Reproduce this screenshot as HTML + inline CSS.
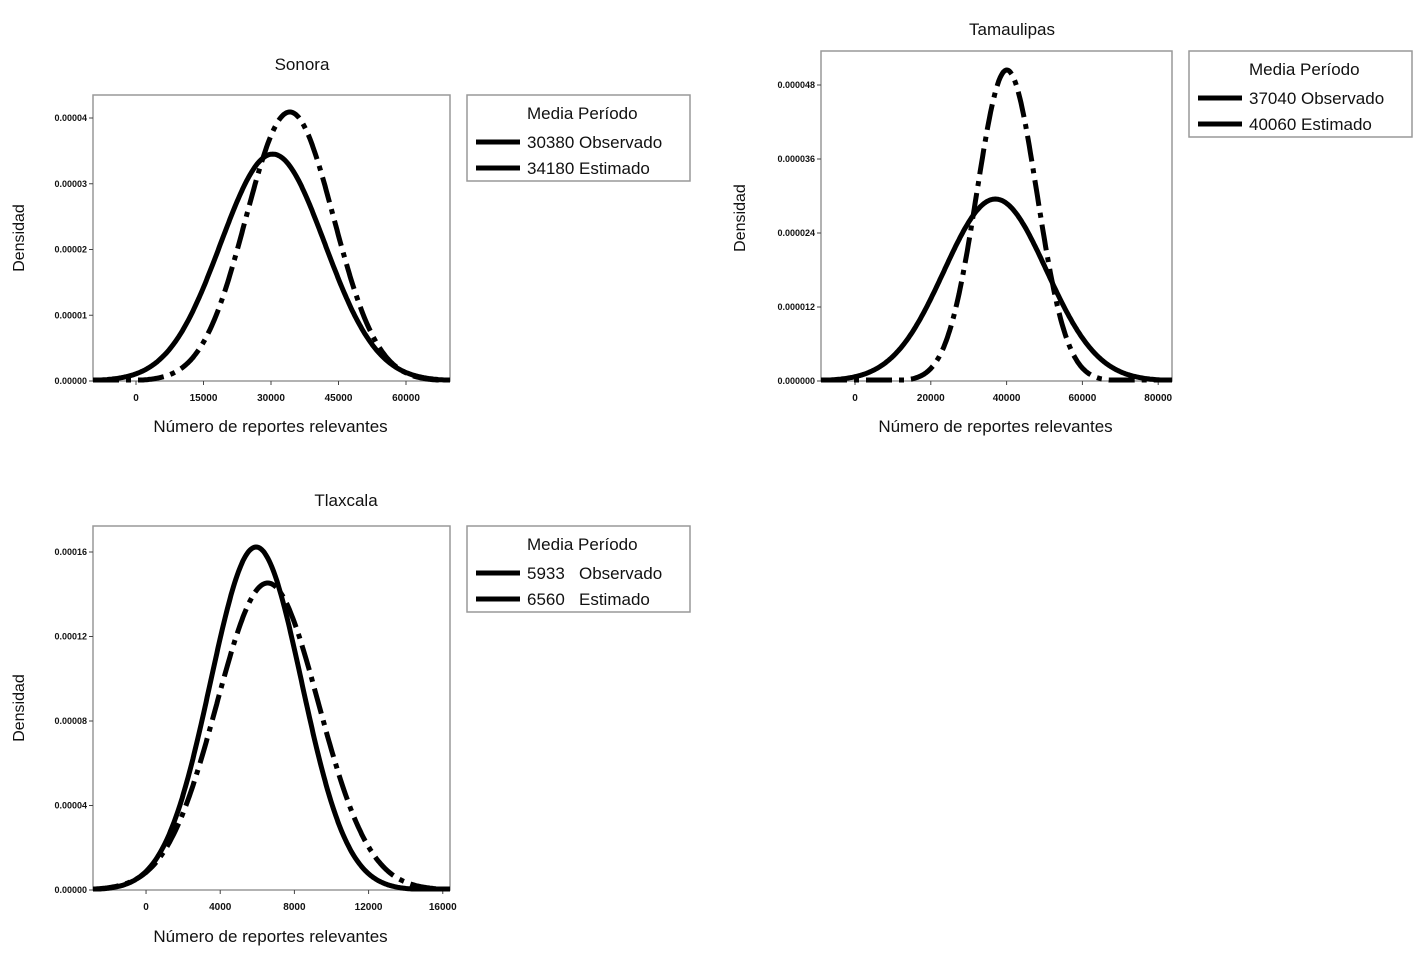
<!DOCTYPE html>
<html><head><meta charset="utf-8">
<style>
html,body{margin:0;padding:0;background:#fff;}
body{width:1415px;height:959px;overflow:hidden;font-family:"Liberation Sans",sans-serif;}
svg text{font-family:"Liberation Sans",sans-serif;fill:#111;}
</style></head>
<body>
<svg id="chart" width="1415" height="959" viewBox="0 0 1415 959" xmlns="http://www.w3.org/2000/svg"></svg>
<script>
// Panel data
const panelTitles = ["Sonora", "Tamaulipas", "Tlaxcala"];
const seriesNames = ["Observado", "Estimado"];
const sonoraMeans = [30380, 34180];
const sonoraSds = [11560, 9750];
const tamaulipasMeans = [37040, 40060];
const tamaulipasSds = [13520, 7910];
const tlaxcalaMeans = [5933, 6560];
const tlaxcalaSds = [2457, 2745];
const sonoraXTicks = [0, 15000, 30000, 45000, 60000];
const sonoraYTicks = ["0.00000", "0.00001", "0.00002", "0.00003", "0.00004"];
const tamaulipasXTicks = [0, 20000, 40000, 60000, 80000];
const tamaulipasYTicks = ["0.000000", "0.000012", "0.000024", "0.000036", "0.000048"];
const tlaxcalaXTicks = [0, 4000, 8000, 12000, 16000];
const tlaxcalaYTicks = ["0.00000", "0.00004", "0.00008", "0.00012", "0.00016"];

const NS = "http://www.w3.org/2000/svg";
const svg = document.getElementById('chart');
function mk(tag, attrs, parent){
  const e = document.createElementNS(NS, tag);
  for (const k in attrs) e.setAttribute(k, attrs[k]);
  (parent || svg).appendChild(e);
  return e;
}

const panels = [
  {key:"sonora", title:panelTitles[0], means:sonoraMeans, sds:sonoraSds, xt:sonoraXTicks, yt:sonoraYTicks,
   box:[93,95,450,381], xmin:-9555, xmax:69777, ymax:0.00004, ytop:118, titleXY:[302,70], xtitleY:432, ytitleXY:[24,238],
   legend:[467,95]},
  {key:"tamaulipas", title:panelTitles[1], means:tamaulipasMeans, sds:tamaulipasSds, xt:tamaulipasXTicks, yt:tamaulipasYTicks,
   box:[821,51,1172,381], xmin:-8970, xmax:83640, ymax:0.000048, ytop:85, titleXY:[1012,35], xtitleY:432, ytitleXY:[745,218],
   legend:[1189,51]},
  {key:"tlaxcala", title:panelTitles[2], means:tlaxcalaMeans, sds:tlaxcalaSds, xt:tlaxcalaXTicks, yt:tlaxcalaYTicks,
   box:[93,526,450,890], xmin:-2860, xmax:16390, ymax:0.00016, ytop:552, titleXY:[346,506], xtitleY:942, ytitleXY:[24,708],
   legend:[467,526]}
];

panels.forEach(p => {
  const [x0,y0,x1,y1] = p.box;
  const g = mk('g', {});
  
  
  const xs = v => x0 + (v - p.xmin) / (p.xmax - p.xmin) * (x1 - x0);
  const ys = v => y1 - v / p.ymax * (y1 - p.ytop);

  const t = mk('text', {x:p.titleXY[0], y:p.titleXY[1], 'text-anchor':'middle', 'font-size':17}, g);
  t.textContent = p.title;
  
  

  const frame = mk('rect', {x:x0, y:y0, width:x1-x0, height:y1-y0, fill:'none', stroke:'#999', 'stroke-width':1.5}, g);
  
  

  p.xt.forEach(v => {
    const x = xs(v);
    mk('line', {x1:x, y1:y1, x2:x, y2:y1+4, stroke:'#444'}, g);
    const tx = mk('text', {x:x, y:y1+20, 'text-anchor':'middle', 'font-size':10, 'font-weight':'bold'}, g);
    tx.textContent = v;
    
    
  });
  p.yt.forEach(lbl => {
    const y = ys(parseFloat(lbl));
    mk('line', {x1:x0-4, y1:y, x2:x0, y2:y, stroke:'#444'}, g);
    const ty = mk('text', {x:x0-6, y:y+3, 'text-anchor':'end', 'font-size':9, 'font-weight':'bold'}, g);
    ty.textContent = lbl;
    
    
  });

  const xt = mk('text', {x:(x0+x1)/2 - 1, y:p.xtitleY, 'text-anchor':'middle', 'font-size':17}, g);
  xt.textContent = "Número de reportes relevantes";
  
  
  const yt = mk('text', {x:p.ytitleXY[0], y:p.ytitleXY[1], 'text-anchor':'middle', 'font-size':16,
    transform:'rotate(-90 '+p.ytitleXY[0]+' '+p.ytitleXY[1]+')'}, g);
  yt.textContent = "Densidad";
  
  

  p.means.forEach((m, i) => {
    const sd = p.sds[i];
    let d = '';
    const N = 300;
    for (let k = 0; k <= N; k++) {
      const v = p.xmin + (p.xmax - p.xmin) * k / N;
      const dens = Math.exp(-0.5 * ((v - m) / sd) ** 2) / (sd * Math.sqrt(2 * Math.PI));
      d += (k ? 'L' : 'M') + xs(v).toFixed(1) + ',' + Math.min(ys(dens), y1 - 1).toFixed(1);
    }
    const path = mk('path', {d:d, fill:'none', stroke:'#000', 'stroke-width':5,
      'stroke-dasharray': i === 1 ? '26 7 5 7' : 'none', 'stroke-linejoin':'round'}, g);
    
    
  });

  // legend
  const [lx, ly] = p.legend;
  const lg = mk('g', {}, g);
  
  
  mk('rect', {x:lx, y:ly, width:223, height:86, fill:'#fff', stroke:'#999', 'stroke-width':1.5}, lg);
  const hd = mk('text', {x:lx+60, y:ly+24, 'font-size':17}, lg);
  hd.textContent = "Media Período";
  p.means.forEach((m, i) => {
    const yy = ly + 47 + i * 26;
    mk('line', {x1:lx+9, y1:yy, x2:lx+53, y2:yy, stroke:'#000', 'stroke-width':5}, lg);
    const e = mk('text', {x:lx+60, y:yy+6, 'font-size':17}, lg);
    e.textContent = m + (String(m).length < 5 ? '\u00a0\u00a0\u00a0' : ' ') + seriesNames[i];
    
    
  });
});
</script>
</body></html>
